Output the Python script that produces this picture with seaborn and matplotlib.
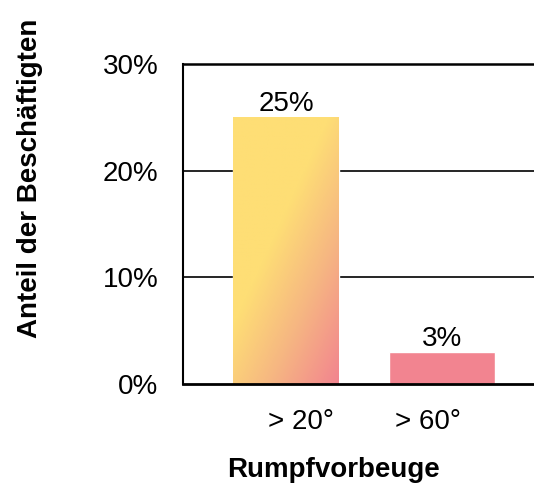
import numpy as np
import pandas as pd
import seaborn as sns
import matplotlib.pyplot as plt
from matplotlib.colors import LinearSegmentedColormap
from matplotlib.transforms import ScaledTranslation

# data
categories = ["> 20°", "> 60°"]
anteil = [25, 3]
y_ticks = [0, 10, 20, 30]
y_ticklabels = ["0%", "10%", "20%", "30%"]

df = pd.DataFrame({"Rumpfvorbeuge": categories, "Anteil": anteil})

sns.set_style("white")
plt.rcParams["font.family"] = ["Liberation Sans", "DejaVu Sans"]
plt.rcParams["text.color"] = "black"
plt.rcParams["xtick.color"] = "black"
plt.rcParams["ytick.color"] = "black"

fig = plt.figure(figsize=(5.34, 4.91), dpi=100)
ax = fig.add_axes([0.343, 0.218, 0.66, 0.652])

sns.barplot(data=df, x="Rumpfvorbeuge", y="Anteil", color="#F28490",
            width=0.675, saturation=1, ax=ax, zorder=2)

# gradient fill yellow -> pink on the first bar (top-left to bottom-right)
cmap = LinearSegmentedColormap.from_list(
    "yp", [(0, "#FEDE75"), (0.42, "#FEDE75"), (0.7, "#F6B682"), (1, "#F2848F")])
patches = list(ax.patches)
for p in patches[:1]:
    x0, y0 = p.get_x(), p.get_y()
    w, h = p.get_width(), p.get_height()
    xx, yy = np.meshgrid(np.linspace(0, 1, 100), np.linspace(0, 1, 200))
    grad = 0.6 * xx + 0.7 * yy  # yy is 0 at top
    im = ax.imshow(grad, cmap=cmap, extent=[x0, x0 + w, y0, y0 + h],
                   origin="upper", aspect="auto", zorder=3, vmin=0, vmax=1.3)
    im.set_clip_path(p)

for p, v in zip(patches, anteil):
    ax.text(p.get_x() + p.get_width() / 2, v, f"{v}%", ha="center", va="bottom",
            fontsize=20, color="black", zorder=5)

ax.set_xlim(-0.66, 1.6)
ax.set_ylim(0, 30)
ax.set_yticks(y_ticks)
ax.set_yticklabels(y_ticklabels, fontsize=20)
ax.tick_params(axis="x", labelsize=20, pad=18, length=0)
ax.tick_params(axis="y", pad=18, length=0)
ax.set_xlabel("")
ax.set_ylabel("")

# category labels sit a bit inward of the bar centres in the original
for lbl, dx in zip(ax.get_xticklabels(), [14.5, -14]):
    lbl.set_transform(lbl.get_transform() + ScaledTranslation(dx / 100, 0, fig.dpi_scale_trans))

for y in [10, 20]:
    ax.axhline(y, color="black", linewidth=1.2, zorder=1)
ax.spines["right"].set_visible(False)
ax.spines["top"].set_linewidth(1.8)
ax.spines["left"].set_linewidth(1.5)
ax.spines["bottom"].set_linewidth(2)
for s in ["top", "left", "bottom"]:
    ax.spines[s].set_color("black")
ax.spines["bottom"].set_zorder(6)

fig.text(0.056, 0.637, "Anteil der Beschäftigten", rotation=90, ha="center",
         va="center", fontsize=20, fontweight="bold")
fig.text(0.624, 0.043, "Rumpfvorbeuge", ha="center", va="center",
         fontsize=20, fontweight="bold")

fig.savefig("out.png", dpi=100)
